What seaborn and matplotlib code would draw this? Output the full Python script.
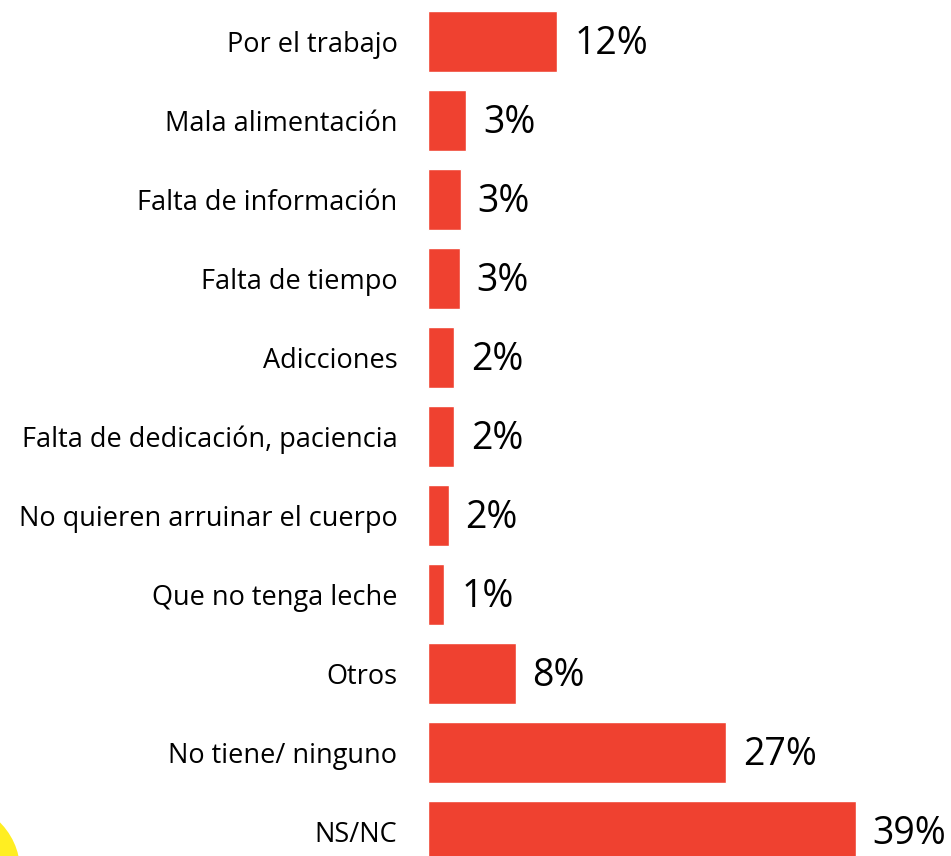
import pandas as pd
import matplotlib.pyplot as plt
import seaborn as sns
from matplotlib.patches import Circle

# reasons and shares (%)
categorias = ["Por el trabajo", "Mala alimentación", "Falta de información",
              "Falta de tiempo", "Adicciones", "Falta de dedicación, paciencia",
              "No quieren arruinar el cuerpo", "Que no tenga leche", "Otros",
              "No tiene/ ninguno", "NS/NC"]
valores = [11.8, 3.5, 3.0, 2.9, 2.4, 2.4, 1.9, 1.5, 8.0, 27.2, 39.0]
etiquetas = ["12%", "3%", "3%", "3%", "2%", "2%", "2%", "1%", "8%", "27%", "39%"]

df = pd.DataFrame({"motivo": categorias, "pct": valores})

sns.set_style("white")
plt.rcParams["font.family"] = ["Open Sans", "DejaVu Sans"]

W, H = 951, 856
fig = plt.figure(figsize=(W / 100, H / 100), dpi=100)

# yellow decoration in the lower left corner
fig.patches.append(Circle((-60 / W, 1 - 870 / H), 80 / W, transform=fig.transFigure,
                          facecolor="#FFEE22", edgecolor="none", zorder=0))

x0 = 428
ax = fig.add_axes([x0 / W, 0, (W - x0) / W, 1])
ax.patch.set_alpha(0)

sns.barplot(data=df, x="pct", y="motivo", color="#EF4130", saturation=1,
            width=0.77, orient="h", ax=ax)

px_per_unit = 10.97
ax.set_xlim(0, (W - x0) / px_per_unit)
pitch = 79
ax.set_ylim((H - 41.5) / pitch, -41.5 / pitch)

for i, (v, lab) in enumerate(zip(valores, etiquetas)):
    ax.annotate(lab, (v, i), xytext=(12, -2), textcoords="offset points",
                va="center", ha="left", fontsize=27, color="black")

ax.set_xlabel("")
ax.set_ylabel("")
ax.set_xticks([])
ax.tick_params(axis="y", length=0, pad=22, labelsize=19.5, labelcolor="black")
sns.despine(ax=ax, left=True, bottom=True)

fig.savefig("out.png", dpi=100)
